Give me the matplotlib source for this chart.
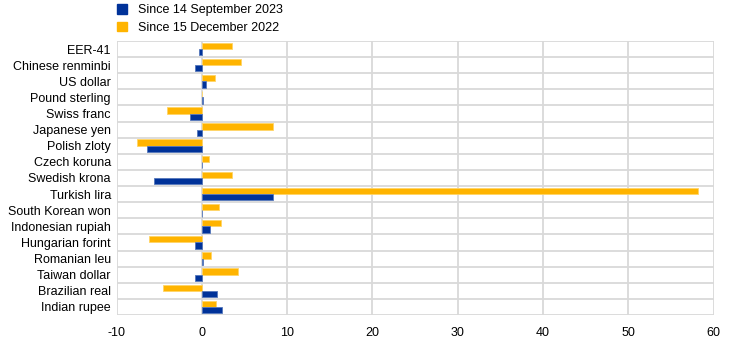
import numpy as np
import matplotlib.pyplot as plt
from matplotlib.patches import Patch

plt.rcParams['font.family'] = ['Liberation Sans', 'DejaVu Sans']

# Valori (variatii in %)
currencies = ['EER-41', 'Chinese renminbi', 'US dollar', 'Pound sterling', 'Swiss franc',
              'Japanese yen', 'Polish zloty', 'Czech koruna', 'Swedish krona', 'Turkish lira',
              'South Korean won', 'Indonesian rupiah', 'Hungarian forint', 'Romanian leu',
              'Taiwan dollar', 'Brazilian real', 'Indian rupee']
since_sep_2023 = [-0.3, -0.8, 0.55, 0.15, -1.35, -0.6, -6.45, 0.05, -5.55, 8.3,
                  0.0, 1.0, -0.8, 0.1, -0.75, 1.8, 2.35]
since_dec_2022 = [3.5, 4.6, 1.55, 0.05, -4.1, 8.3, -7.65, 0.85, 3.5, 58.2,
                  2.0, 2.3, -6.2, 1.05, 4.2, -4.6, 1.65]
xticks = [-10, 0, 10, 20, 30, 40, 50, 60]

BLUE = '#003299'
YELLOW = '#FFB400'
GRID = '#D9D9D9'
FS = 9

fig = plt.figure(figsize=(7.44, 3.43), dpi=100)
ax = fig.add_axes([116.5 / 744, 1 - 315 / 343, 597 / 744, 274 / 343])

y = np.arange(len(currencies))
h = 0.39
ax.barh(y - h / 2, since_dec_2022, height=h, color=YELLOW, edgecolor='#FFD566', linewidth=0.6, zorder=3)
ax.barh(y + h / 2, since_sep_2023, height=h, color=BLUE, edgecolor='#5577BB', linewidth=0.6, zorder=3)

ax.set_ylim(len(currencies) - 0.5, -0.5)
ax.set_xlim(-10, 60)
ax.set_xticks(xticks)
ax.set_xticklabels([str(t) for t in xticks], fontsize=FS)
ax.set_yticks(y)
ax.set_yticklabels(currencies, fontsize=FS)
ax.tick_params(length=0)
ax.tick_params(axis='x', pad=9)
ax.tick_params(axis='y', pad=4)

# grila: verticala la fiecare tick, orizontala intre categorii
for t in xticks:
    ax.axvline(t, color=GRID, linewidth=1.3, zorder=1)
for b in np.arange(-0.5, len(currencies) + 0.5, 1):
    ax.axhline(b, color=GRID, linewidth=1.3, zorder=1)
for s in ax.spines.values():
    s.set_visible(False)

handles = [Patch(color=BLUE, label='Since 14 September 2023'),
           Patch(color=YELLOW, label='Since 15 December 2022')]
fig.legend(handles=handles, loc='upper left', bbox_to_anchor=(112 / 744, 1 + 1 / 343),
           frameon=False, fontsize=FS, handlelength=0.8, handleheight=0.8,
           handletextpad=0.9, labelspacing=0.45, borderaxespad=0)

fig.savefig('out.png', dpi=100)
